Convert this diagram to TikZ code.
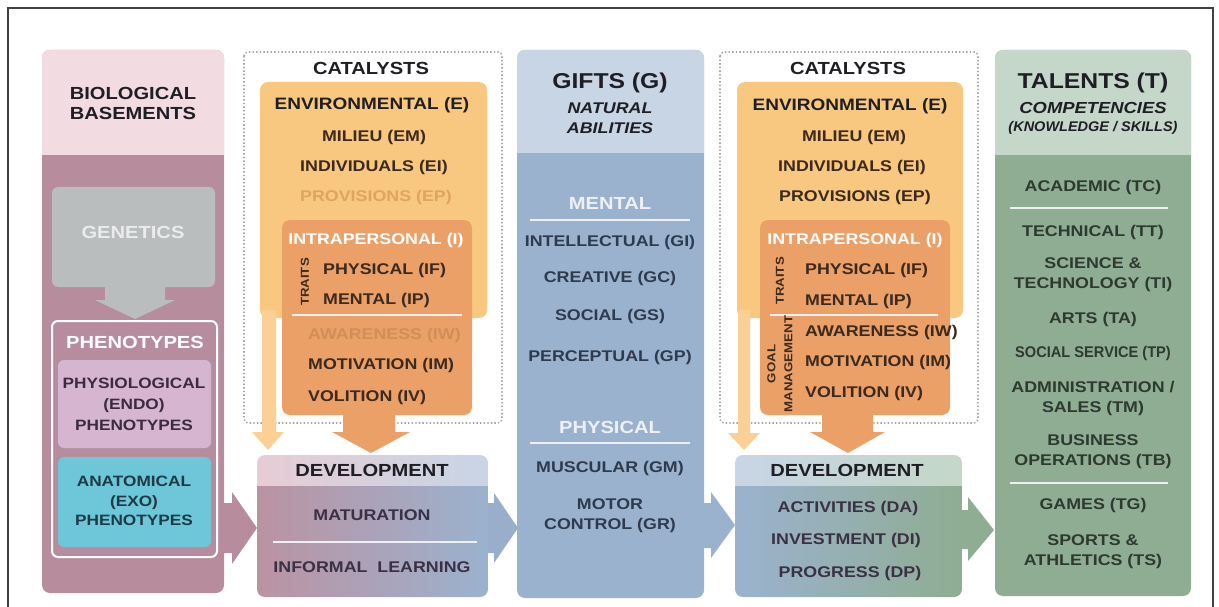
\documentclass[tikz,border=0pt]{standalone}
\usepackage{fontspec}
\setmainfont{Liberation Sans}[FakeStretch=1.15]
\definecolor{bioH}{HTML}{F2DCE2}
\definecolor{bioC}{HTML}{B78D9D}
\definecolor{genC}{HTML}{BABDBE}
\definecolor{physio}{HTML}{D6B5D1}
\definecolor{anat}{HTML}{6DC7D9}
\definecolor{envC}{HTML}{F9C880}
\definecolor{envL}{HTML}{FBD095}
\definecolor{intra}{HTML}{EBA068}
\definecolor{giftH}{HTML}{C8D5E5}
\definecolor{giftC}{HTML}{9BB2CE}
\definecolor{talH}{HTML}{C4D7C8}
\definecolor{talC}{HTML}{8FAD92}
\definecolor{ink}{HTML}{1E1E24}
\definecolor{catInk}{HTML}{3B2A1E}
\definecolor{fadeEnv}{HTML}{DEA462}
\definecolor{fadeIntra}{HTML}{D18E57}
\definecolor{giftInk}{HTML}{2E3B4F}
\definecolor{talInk}{HTML}{2E3A30}
\definecolor{devInk}{HTML}{3A3145}
\definecolor{physioInk}{HTML}{3B2B3F}
\definecolor{anatInk}{HTML}{1E3A44}
\definecolor{barC}{HTML}{EEF0F6}
\begin{document}
\begin{tikzpicture}[x=1pt,y=-1pt,
  item/.style={font=\fontsize{15.5}{20}\selectfont\bfseries,align=center,inner sep=0pt,text=#1},
  item/.default=ink,
  lbl/.style={font=\fontsize{17.5}{20}\selectfont\bfseries,inner sep=0pt,text=white},
  head/.style={font=\fontsize{21.5}{24}\selectfont\bfseries,inner sep=0pt,text=ink},
  sub/.style={font=\fontsize{17.5}{20}\selectfont\bfseries,align=center,inner sep=0pt,text=ink},
  ital/.style={font=\fontsize{15.5}{20}\selectfont\bfseries\itshape,align=center,inner sep=0pt,text=ink},
  tiny/.style={font=\fontsize{11.5}{17}\selectfont\bfseries,align=center,inner sep=0pt,text=catInk,rotate=90},
  bar/.style={draw=barC,line width=2pt},
  dotbox/.style={draw=gray!70,line width=1.6pt,dash pattern=on 1.4pt off 2.2pt,rounded corners=4pt},
  frame/.style={draw=black!75,line width=1.4pt}]
\useasboundingbox (0,0) rectangle (1219,607);
%cadre
\draw[frame] (8,607) -- (8,8) -- (1213,8) -- (1213,607);
%catalyseurs (pointilles)
\draw[dotbox] (244,52) rectangle (502,423);
\draw[dotbox] (720,52) rectangle (978,423);
%fleches horizontales
\fill[bioC] (222,503) -- (232,503) -- (232,492) -- (257,528) -- (232,564) -- (232,553) -- (222,553) -- cycle;
\fill[giftC!98!black] (486,503) -- (494,503) -- (494,493) -- (518,528) -- (494,563) -- (494,553) -- (486,553) -- cycle;
\fill[giftC] (702,503) -- (711,503) -- (711,492) -- (735,525) -- (711,558) -- (711,548) -- (702,548) -- cycle;
\fill[talC] (958,510) -- (968,510) -- (968,497) -- (994,530) -- (968,561) -- (968,549) -- (958,549) -- cycle;

%bases biologiques
\fill[bioC,rounded corners=8pt] (42,50) rectangle (224,593);
\begin{scope}
\clip[rounded corners=8pt] (42,50) rectangle (224,593);
\fill[bioH] (42,50) rectangle (224,155);
\end{scope}
\node[sub] (bio) at (133,103) {BIOLOGICAL\\BASEMENTS};
\fill[genC,rounded corners=6pt] (52,187) rectangle (215,287);
\fill[genC] (105,286) -- (105,300) -- (95,300) -- (135,319) -- (175,300) -- (165,300) -- (165,286) -- cycle;
\node[lbl,text=white!92!black] (gen) at (133,232) {GENETICS};
\draw[white,line width=2pt,rounded corners=6pt] (52,321) rectangle (217,557);
\node[lbl] (phen) at (135,342) {PHENOTYPES};
\fill[physio,rounded corners=6pt] (58,360) rectangle (211,448);
\fill[anat,rounded corners=6pt] (58,457) rectangle (211,547);
\node[item=physioInk,font=\fontsize{15}{21}\selectfont\bfseries] (endo) at (134,404) {PHYSIOLOGICAL\\(ENDO)\\PHENOTYPES};
\node[item=anatInk,font=\fontsize{15}{19.5}\selectfont\bfseries] (exo) at (134,501) {ANATOMICAL\\(EXO)\\PHENOTYPES};

%catalyseurs 1
\node[sub] (cat1) at (371,68) {CATALYSTS};
\fill[envC,rounded corners=8pt] (260,82) rectangle (487,318);
\fill[envL] (262,310) -- (262,432) -- (252,432) -- (268,450) -- (284,432) -- (276,432) -- (276,310) -- cycle;
\fill[intra] (343,405) -- (343,432) -- (332,432) -- (371,453) -- (410,432) -- (395,432) -- (395,405) -- cycle;
\fill[intra,rounded corners=8pt] (282,220) rectangle (472,415);
\node[sub,font=\fontsize{16.5}{20}\selectfont\bfseries] (env1) at (372,105) {ENVIRONMENTAL (E)};
\node[item=catInk] (em1) at (374,137) {MILIEU (EM)};
\node[item=catInk] (ei1) at (374,167) {INDIVIDUALS (EI)};
\node[item=fadeEnv] (ep1) at (376,197) {PROVISIONS (EP)};
\node[item=white] (i1) at (376,240) {INTRAPERSONAL (I)};
\node[tiny] (tr1) at (305,282) {TRAITS};
\node[item=catInk,anchor=west] (if1) at (323,270) {PHYSICAL (IF)};
\node[item=catInk,anchor=west] (ip1) at (323,300) {MENTAL (IP)};
\draw[bar] (292,315) -- (462,315);
\node[item=fadeIntra,anchor=west] (iw1) at (308,335) {AWARENESS (IW)};
\node[item=catInk,anchor=west] (im1) at (308,365) {MOTIVATION (IM)};
\node[item=catInk,anchor=west] (iv1) at (308,397) {VOLITION (IV)};

%developpement 1
\begin{scope}
\clip[rounded corners=8pt] (257,455) rectangle (488,597);
\shade[left color=bioC!95!white,right color=giftC] (257,485) rectangle (488,597);
\shade[left color=bioH!80!bioC,right color=giftH] (257,455) rectangle (488,485);
\end{scope}
\node[sub] (dev1) at (372,470) {DEVELOPMENT};
\node[item=devInk] (mat) at (372,515) {MATURATION};
\draw[bar] (273,542) -- (477,542);
\node[item=devInk] (inf) at (372,567) {INFORMAL\ \ LEARNING};

%dons
\fill[giftC,rounded corners=8pt] (517,50) rectangle (704,598);
\begin{scope}
\clip[rounded corners=8pt] (517,50) rectangle (704,598);
\fill[giftH] (517,50) rectangle (704,153);
\end{scope}
\node[head] (gifts) at (610,83) {GIFTS (G)};
\node[ital] (nat) at (610,118) {NATURAL\\ABILITIES};
\node[lbl,text=barC] (ment) at (610,203) {MENTAL};
\draw[bar] (530,220) -- (690,220);
\node[lbl,text=barC] (phys) at (610,427) {PHYSICAL};
\draw[bar] (530,443) -- (690,443);
\foreach \y/\t in {242/INTELLECTUAL (GI),278/CREATIVE (GC),316/SOCIAL (GS),357/PERCEPTUAL (GP),468/MUSCULAR (GM),516/{MOTOR\\CONTROL (GR)}}
  \node[item=giftInk] (g\y) at (610,\y) {\t};

%catalyseurs 2
\node[sub] (cat2) at (848,68) {CATALYSTS};
\fill[envC,rounded corners=8pt] (737,82) rectangle (963,318);
\fill[envL] (738,310) -- (738,433) -- (728,433) -- (744,450) -- (760,433) -- (750,433) -- (750,310) -- cycle;
\fill[intra] (822,405) -- (822,432) -- (810,432) -- (848,453) -- (885,432) -- (873,432) -- (873,405) -- cycle;
\fill[intra,rounded corners=8pt] (760,220) rectangle (950,415);
\node[sub,font=\fontsize{16.5}{20}\selectfont\bfseries] (env2) at (850,106) {ENVIRONMENTAL (E)};
\node[item=catInk] (em2) at (854,137) {MILIEU (EM)};
\node[item=catInk] (ei2) at (852,167) {INDIVIDUALS (EI)};
\node[item=catInk] (ep2) at (855,197) {PROVISIONS (EP)};
\node[item=white] (i2) at (855,240) {INTRAPERSONAL (I)};
\node[tiny] (tr2) at (780,281) {TRAITS};
\node[item=catInk,anchor=west] (if2) at (805,270) {PHYSICAL (IF)};
\node[item=catInk,anchor=west] (ip2) at (805,301) {MENTAL (IP)};
\draw[bar] (770,315) -- (938,315);
\node[tiny] (goal) at (780,364) {GOAL\\MANAGEMENT};
\node[item=catInk,anchor=west] (iw2) at (805,332) {AWARENESS (IW)};
\node[item=catInk,anchor=west] (im2) at (805,362) {MOTIVATION (IM)};
\node[item=catInk,anchor=west] (iv2) at (805,393) {VOLITION (IV)};

%developpement 2
\begin{scope}
\clip[rounded corners=8pt] (735,455) rectangle (962,597);
\shade[left color=giftC,right color=talC] (735,485) rectangle (962,597);
\shade[left color=giftH,right color=talH] (735,455) rectangle (962,485);
\end{scope}
\node[sub] (dev2) at (847,470) {DEVELOPMENT};
\node[item=devInk] (da) at (848,508) {ACTIVITIES (DA)};
\node[item=devInk] (di) at (846,540) {INVESTMENT (DI)};
\node[item=devInk] (dp) at (850,573) {PROGRESS (DP)};

%talents
\fill[talC,rounded corners=8pt] (995,50) rectangle (1191,596);
\begin{scope}
\clip[rounded corners=8pt] (995,50) rectangle (1191,596);
\fill[talH] (995,50) rectangle (1191,155);
\end{scope}
\node[head] (tal) at (1093,83) {TALENTS (T)};
\node[ital,font=\fontsize{16}{20}\selectfont\bfseries\itshape] (comp) at (1093,108) {COMPETENCIES};
\node[ital,font=\fontsize{14}{20}\selectfont\bfseries\itshape] (know) at (1093,128) {\scalebox{0.9}[1]{(KNOWLEDGE / SKILLS)}};
\draw[bar] (1010,208) -- (1168,208);
\draw[bar] (1010,483) -- (1168,483);
\foreach \y/\t in {187/ACADEMIC (TC),232/TECHNICAL (TT),275/{SCIENCE \&\\TECHNOLOGY (TI)},319/ARTS (TA),398/{ADMINISTRATION /\\SALES (TM)},452/{BUSINESS\\OPERATIONS (TB)},505/GAMES (TG),552/{SPORTS \&\\ATHLETICS (TS)}}
  \node[item=talInk] (t\y) at (1093,\y) {\t};
\node[item=talInk] (t353) at (1093,353) {\scalebox{0.82}[1]{SOCIAL SERVICE (TP)}};
\end{tikzpicture}
\end{document}
